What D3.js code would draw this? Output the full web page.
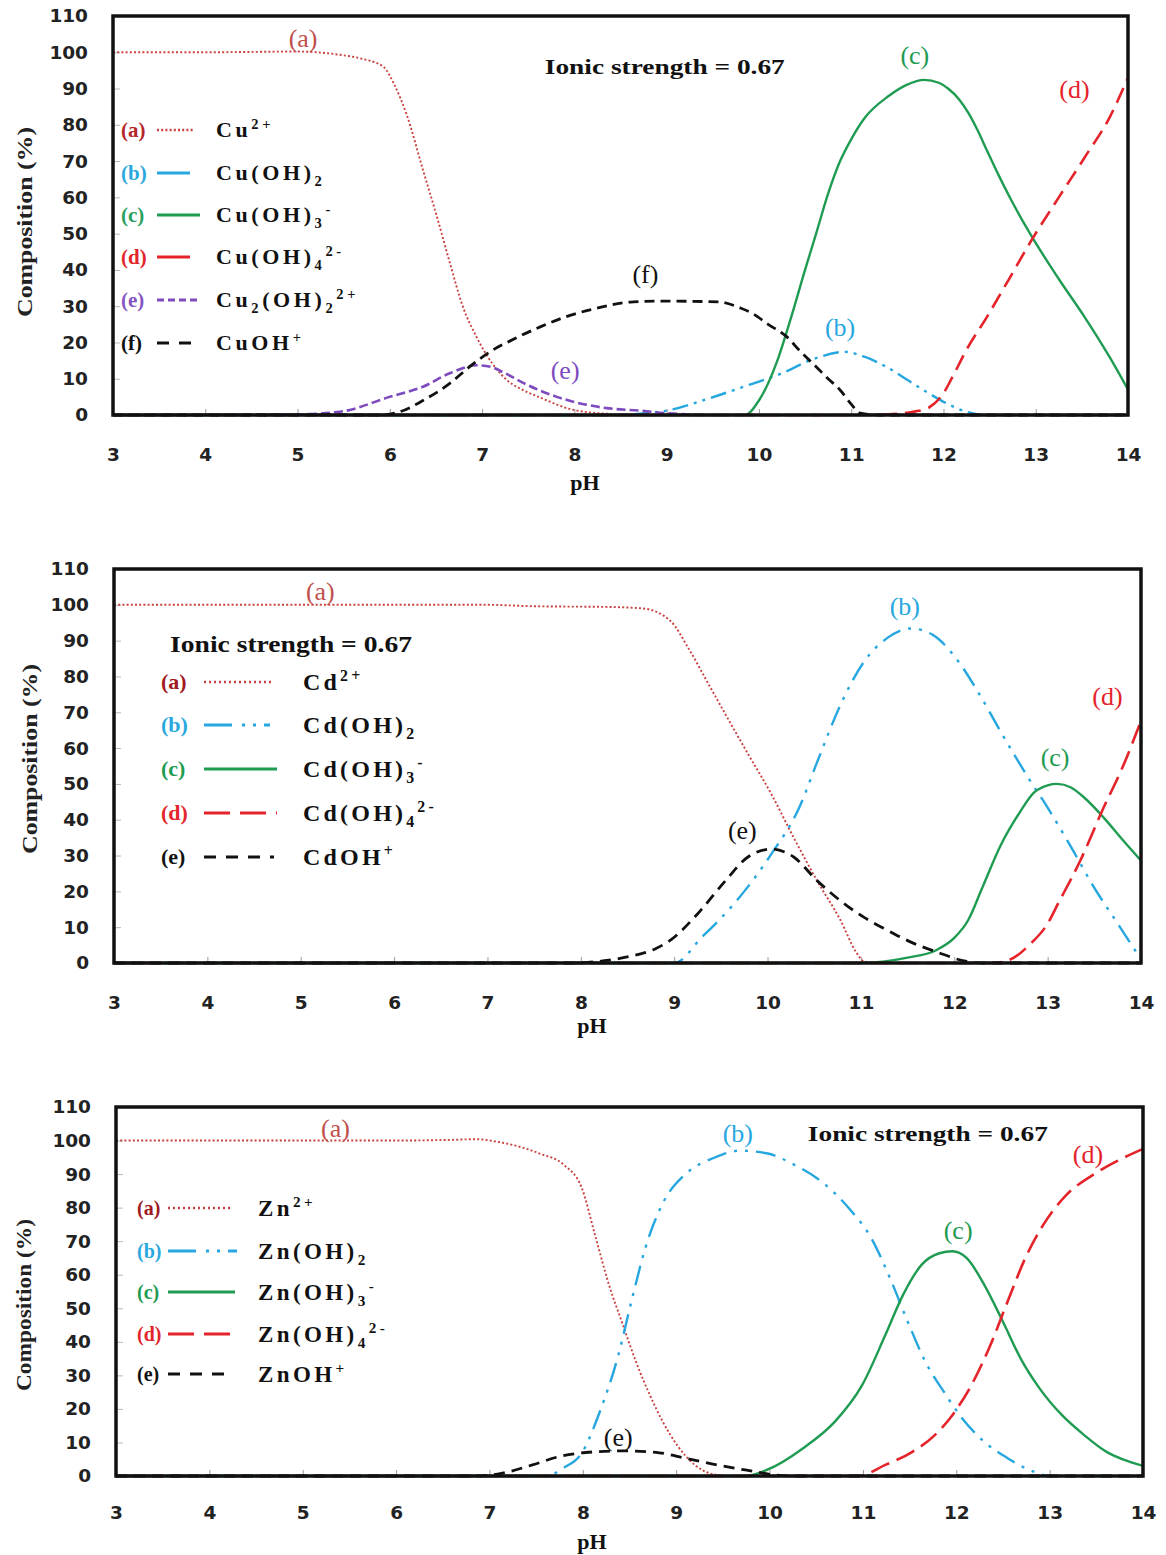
<!DOCTYPE html>
<html><head><meta charset="utf-8">
<script src="https://cdn.jsdelivr.net/npm/d3@7"></script>
<style>body{margin:0;background:#fff}</style>
</head><body><svg id="c" width="1166" height="1555"></svg>
<script>
// ---------------- DATA ----------------
const xTicks = [3,4,5,6,7,8,9,10,11,12,13,14];
const yTicks = [0,10,20,30,40,50,60,70,80,90,100,110];
const seriesTags = ["(a)","(b)","(c)","(d)","(e)","(f)"];
const ionicText = "Ionic strength = 0.67";

// Panel 1: Cu
const cuNames = ["Cu^{2+}","Cu(OH)_2","Cu(OH)_3^{-}","Cu(OH)_4^{2-}","Cu_2(OH)_2^{2+}","CuOH^{+}"];
const cuA = [[3,100],[4,100],[5,100.2],[5.46,99.3],[5.7,98.2],[5.93,96],[6.05,91],[6.18,83],[6.36,67.5],[6.51,54.7],[6.65,42],[6.79,30],[6.94,21.5],[7.05,16.5],[7.27,9.6],[7.45,6.8],[7.63,4.8],[7.99,1.4],[8.4,0.3],[9,0],[14,0]];
const cuB = [[3,0],[8.5,0],[8.8,0.6],[9,1.2],[9.39,4],[9.8,7.5],[10.25,11.5],[10.6,15.5],[10.93,17.4],[11.15,16],[11.4,13],[11.62,9.5],[11.84,6],[12.05,3],[12.26,0.8],[12.45,0],[14,0]];
const cuC = [[3,0],[9.85,0],[10.0,4],[10.2,15],[10.35,27],[10.5,40],[10.62,50],[10.75,61],[10.88,70],[11.0,76],[11.15,82],[11.41,88],[11.6,91],[11.79,92.4],[11.95,91.6],[12.05,90],[12.17,87],[12.27,83.3],[12.37,78.5],[12.47,73],[12.6,66],[12.74,59],[12.95,49.5],[13.25,37.5],[13.53,27],[13.8,16],[14,7]];
const cuD = [[3,0],[11.0,0],[11.4,0.2],[11.7,1],[11.84,2],[12.0,6],[12.1,10.6],[12.25,18],[12.47,27],[12.7,37],[12.95,48],[13.25,60],[13.53,71],[13.8,82],[14,93]];
const cuE = [[3,0],[5,0.2],[5.46,0.9],[6.0,5],[6.36,7.8],[6.65,11.5],[6.94,13.7],[7.09,13.3],[7.25,11.5],[7.45,8.8],[7.81,5],[8.35,1.9],[8.71,1.2],[9.0,0.5],[9.5,0],[14,0]];
const cuF = [[3,0],[5.9,0],[6.11,0.9],[6.36,4],[6.65,8.7],[6.85,13],[7.09,17.5],[7.35,21],[7.63,24.3],[7.9,27],[8.17,29],[8.64,31.2],[8.92,31.4],[9.56,31.2],[9.8,29.5],[9.93,28],[10.1,25],[10.3,21.6],[10.45,17.5],[10.62,13.3],[10.75,10],[10.88,6.9],[11.0,3],[11.1,0.5],[11.3,0],[14,0]];
const cuLabelPos = [[5.06,104],[10.88,24.3],[11.69,99.2],[13.42,90],[7.9,12.4],[8.77,38.9]];

// Panel 2: Cd
const cdNames = ["Cd^{2+}","Cd(OH)_2","Cd(OH)_3^{-}","Cd(OH)_4^{2-}","CdOH^{+}"];
const cdA = [[3,100],[7,100],[7.5,99.6],[8.3,99.4],[8.66,99],[8.96,95.5],[9.15,88],[9.35,78.7],[9.55,69.4],[9.79,58.4],[10.04,47.2],[10.28,35],[10.53,23],[10.78,12],[10.95,3],[11.03,0.5],[11.2,0],[14,0]];
const cdB = [[3,0],[9.0,0],[9.3,7.3],[9.64,16.5],[10.04,30.4],[10.34,43.4],[10.53,56],[10.78,72],[11.03,84],[11.28,90.7],[11.53,93.4],[11.77,91.6],[12.02,85],[12.27,75],[12.51,64],[12.81,51],[13.0,43.4],[13.25,32.4],[13.5,21],[13.75,11],[14,1]];
const cdC = [[3,0],[11.0,0],[11.5,1.5],[11.8,3.5],[12.0,7],[12.15,12],[12.3,21],[12.5,33],[12.7,42],[12.85,47.5],[13.0,49.6],[13.1,50],[13.25,49],[13.4,46],[13.6,40.6],[13.8,34.5],[14,28.6]];
const cdD = [[3,0],[12.4,0],[12.6,1],[12.81,5.2],[13.0,11],[13.11,16.5],[13.35,28.6],[13.6,43.4],[13.8,54.5],[14,67.6]];
const cdE = [[3,0],[7.9,0],[8.3,0.8],[8.55,2],[8.8,4],[8.96,6.4],[9.25,13.7],[9.55,23],[9.79,29.6],[10.04,31.8],[10.28,29.6],[10.53,23],[10.78,17.4],[11.03,12.8],[11.28,9.2],[11.53,5.9],[11.82,3],[12.12,0.5],[12.3,0],[14,0]];
const cdLabelPos = [[5.21,103.9],[11.47,99.7],[13.08,57.5],[13.64,74.5],[9.73,37.1]];

// Panel 3: Zn
const znNames = ["Zn^{2+}","Zn(OH)_2","Zn(OH)_3^{-}","Zn(OH)_4^{2-}","ZnOH^{+}"];
const znA = [[3,100],[6.0,100],[6.58,100.2],[6.85,100.4],[7.07,99.7],[7.55,96],[7.8,92.7],[7.99,85.8],[8.13,71.9],[8.28,57],[8.43,45],[8.57,34],[8.72,24],[8.86,16],[9.01,9.2],[9.2,3.3],[9.4,0.5],[9.6,0],[14,0]];
const znB = [[3,0],[7.6,0],[7.8,2.5],[7.99,6.9],[8.18,19],[8.38,36],[8.52,52],[8.67,68],[8.86,81.5],[9.1,90],[9.4,94.8],[9.68,97],[9.97,96.2],[10.27,92.7],[10.56,87.7],[10.85,79.8],[11.09,70.9],[11.29,59],[11.48,46],[11.67,34],[11.87,25],[12.06,17.3],[12.3,10.2],[12.55,5.3],[12.83,1.3],[13.0,0],[14,0]];
const znC = [[3,0],[9.75,0],[9.97,1.8],[10.36,8.3],[10.7,16.2],[10.99,27],[11.24,42],[11.43,54],[11.63,63],[11.82,66.4],[11.96,67],[12.11,65],[12.3,57],[12.5,46],[12.69,35],[12.89,26.2],[13.13,18.2],[13.37,12.2],[13.61,7.2],[13.8,4.8],[14,3]];
const znD = [[3,0],[10.95,0],[11.24,3.3],[11.53,7.2],[11.77,12.2],[11.96,18.2],[12.16,27],[12.35,38],[12.55,52],[12.74,65],[12.93,74.8],[13.18,83.8],[13.46,89.7],[13.71,93.7],[14,97.5]];
const znE = [[3,0],[6.8,0],[7.07,0.5],[7.46,3.3],[7.75,5.8],[8.03,7],[8.43,7.5],[8.82,6.9],[9.1,5.3],[9.44,3.3],[9.74,1.8],[10.07,0.3],[10.3,0],[14,0]];
const znLabelPos = [[5.35,103.7],[9.66,102.2],[12.02,73.3],[13.41,95.9],[8.38,11.6]];

// ---------------- STYLES / LAYOUT ----------------
const RED_DOT = "#c8413f", BLUE = "#27a7df", GREEN = "#1f9b52", RED = "#e5232b", PURPLE = "#7e4bbf", BLACK = "#111";
const SERIF = "'Liberation Serif','Times New Roman',serif";
const SANS = "'DejaVu Sans',Verdana,sans-serif";

const styleP1 = [
  {c:RED_DOT, w:1.9, d:"2,2.2", leg:"2,2.2", tagC:"#b5262b", lblC:"#c0504d"},
  {c:BLUE, w:2.4, d:"16,6,3,6,3,6", leg:null, tagC:"#2aa8de", lblC:BLUE},
  {c:GREEN, w:2.4, d:null, leg:null, tagC:"#2aa060", lblC:GREEN},
  {c:RED, w:2.6, d:"16,8", leg:null, tagC:"#e3262d", lblC:RED},
  {c:PURPLE, w:2.6, d:"9,4", leg:"7,4", tagC:"#8655c3", lblC:PURPLE},
  {c:BLACK, w:2.8, d:"10,6", leg:"12,10", tagC:"#111", lblC:"#111"}
];
const styleP23 = [
  {c:RED_DOT, w:1.9, d:"2,2.2", leg:"2,3", tagC:"#a01a1f", lblC:"#c0504d"},
  {c:BLUE, w:2.4, d:"20,8,3,8,3,8", leg:"28,10,3,8,3,8", tagC:"#2aa8de", lblC:BLUE},
  {c:GREEN, w:2.4, d:null, leg:null, tagC:"#1f9b52", lblC:GREEN},
  {c:RED, w:2.6, d:"20,8", leg:"26,10", tagC:"#e3262d", lblC:RED},
  {c:BLACK, w:2.8, d:"11,7", leg:"12,10", tagC:"#111", lblC:"#111"}
];

const panels = [
  {box:{l:113,r:1128,t:16,b:415}, series:[cuA,cuB,cuC,cuD,cuE,cuF], names:cuNames, labelPos:cuLabelPos, styles:styleP1,
   xTickY:455, phPos:[585,482], yTitle:{x:25,y:222,len:190},
   ionic:{x:8.98,v:96,anchor:"middle",size:21,len:240},
   leg:{tagX:121,lineX1:157,formX:216,rows:[130,173,215,257,300,343],tagSize:21,formSize:22,ls:3.6,
        lineEnds:[193,190,200,190,197,197]}},
  {box:{l:114,r:1141,t:569,b:963}, series:[cdA,cdB,cdC,cdD,cdE], names:cdNames, labelPos:cdLabelPos, styles:styleP23,
   xTickY:1003, phPos:[592,1025], yTitle:{x:30,y:759,len:190},
   ionic:{x:3.6,v:89,anchor:"start",size:23,len:242},
   leg:{tagX:161,lineX1:204,formX:303,rows:[682,725,769,813,857],tagSize:22,formSize:24,ls:3.2,
        lineEnds:[272,270,277,277,274]}},
  {box:{l:116,r:1143,t:1107,b:1476}, series:[znA,znB,znC,znD,znE], names:znNames, labelPos:znLabelPos, styles:styleP23,
   xTickY:1513, phPos:[592,1541], yTitle:{x:24,y:1305,len:172},
   ionic:{x:10.41,v:102.2,anchor:"start",size:22,len:240},
   leg:{tagX:137,lineX1:168,formX:258,rows:[1208,1251,1292,1334,1374],tagSize:20,formSize:23,ls:3.4,
        lineEnds:[233,237,235,235,233]}}
];

// ---------------- DRAW ----------------
const svg = d3.select("#c");

function formula(sel, str, base){
  const parts=[]; let i=0;
  while(i<str.length){
    const ch=str[i];
    if(ch==='_'){parts.push({t:str[i+1],k:'sub'}); i+=2;}
    else if(ch==='^'){const j=str.indexOf('}',i); parts.push({t:str.slice(i+2,j),k:'sup'}); i=j+1;}
    else {let j=i; while(j<str.length&&str[j]!=='_'&&str[j]!=='^') j++; parts.push({t:str.slice(i,j),k:'n'}); i=j;}
  }
  let off=0;
  parts.forEach(p=>{
    const target = p.k==='sub'? 0.26*base : p.k==='sup'? -0.4*base : 0;
    sel.append('tspan').attr('dy',(target-off).toFixed(2)).attr('font-size',p.k==='n'?base:base*0.66).text(p.t);
    off=target;
  });
}

panels.forEach(P=>{
  const x = d3.scaleLinear().domain([3,14]).range([P.box.l,P.box.r]);
  const y = d3.scaleLinear().domain([0,110]).range([P.box.b,P.box.t]);
  const g = svg.append("g");

  // axes (inner ticks)
  const ya = g.append("g").attr("transform",`translate(${P.box.l},0)`)
    .call(d3.axisLeft(y).tickValues(yTicks).tickSize(-7).tickPadding(25));
  ya.select(".domain").remove();
  ya.selectAll(".tick line").attr("stroke","#b8b8b8").attr("stroke-width",1);
  ya.selectAll(".tick text").attr("font-family",SANS).attr("font-weight","bold").attr("font-size",18.5).attr("fill","#222");

  const xa = g.append("g").attr("transform",`translate(0,${P.box.b})`)
    .call(d3.axisBottom(x).tickValues(xTicks).tickSize(-6).tickFormat(d3.format("d")));
  xa.select(".domain").remove();
  xa.selectAll(".tick line").attr("stroke","#999").attr("stroke-width",1);
  xa.selectAll(".tick text").attr("y",P.xTickY-P.box.b).attr("dy","0.35em")
    .attr("font-family",SANS).attr("font-weight","bold").attr("font-size",18.5).attr("fill","#222");

  // curves
  const line = d3.line().x(d=>x(d[0])).y(d=>y(d[1])).curve(d3.curveMonotoneX);
  P.series.forEach((s,i)=>{
    const st=P.styles[i];
    g.append("path").attr("d",line(s)).attr("fill","none").attr("stroke",st.c)
      .attr("stroke-width",st.w).attr("stroke-dasharray",st.d||null);
  });

  // frame
  g.append("rect").attr("x",P.box.l).attr("y",P.box.t).attr("width",P.box.r-P.box.l).attr("height",P.box.b-P.box.t)
    .attr("fill","none").attr("stroke","#111").attr("stroke-width",3.5);

  // curve labels
  P.labelPos.forEach((p,i)=>{
    g.append("text").attr("x",x(p[0])).attr("y",y(p[1])).attr("dy","0.35em").attr("text-anchor","middle")
      .attr("font-family",SERIF).attr("font-size",26).attr("fill",P.styles[i].lblC).text(seriesTags[i]);
  });

  // ionic strength
  g.append("text").attr("x",x(P.ionic.x)).attr("y",y(P.ionic.v)).attr("dy","0.35em").attr("text-anchor",P.ionic.anchor)
    .attr("font-family",SERIF).attr("font-weight","bold").attr("font-size",P.ionic.size)
    .attr("textLength",P.ionic.len).attr("lengthAdjust","spacingAndGlyphs").attr("fill","#111").text(ionicText);

  // legend
  const L=P.leg;
  P.names.forEach((nm,i)=>{
    const st=P.styles[i], yy=L.rows[i];
    g.append("text").attr("x",L.tagX).attr("y",yy+0.34*L.tagSize).attr("font-family",SERIF).attr("font-weight","bold")
      .attr("font-size",L.tagSize).attr("fill",st.tagC).text(seriesTags[i]);
    g.append("line").attr("x1",L.lineX1).attr("x2",L.lineEnds[i]).attr("y1",yy).attr("y2",yy)
      .attr("stroke",st.c).attr("stroke-width",st.w+0.4).attr("stroke-dasharray",st.leg||null);
    const t=g.append("text").attr("x",L.formX).attr("y",yy+0.34*L.formSize).attr("font-family",SERIF).attr("font-weight","bold")
      .attr("letter-spacing",L.ls).attr("fill","#111");
    formula(t,nm,L.formSize);
  });

  // axis titles
  g.append("text").attr("x",P.phPos[0]).attr("y",P.phPos[1]).attr("dy","0.35em").attr("text-anchor","middle")
    .attr("font-family",SERIF).attr("font-weight","bold").attr("font-size",22).attr("fill","#111").text("pH");
  g.append("text").attr("transform",`translate(${P.yTitle.x},${P.yTitle.y}) rotate(-90)`).attr("dy","0.35em").attr("text-anchor","middle")
    .attr("font-family",SERIF).attr("font-weight","bold").attr("font-size",21).attr("textLength",P.yTitle.len)
    .attr("lengthAdjust","spacingAndGlyphs").attr("fill","#222").text("Composition (%)");
});
</script></body></html>
